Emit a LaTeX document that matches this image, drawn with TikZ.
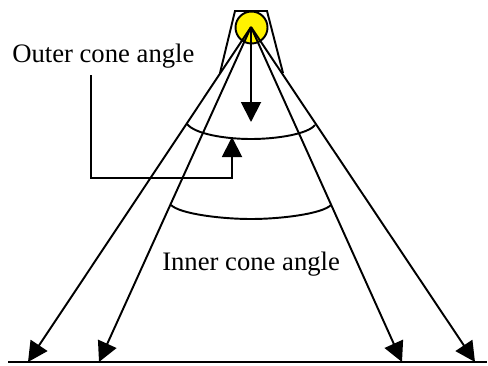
\documentclass[tikz,border=0pt]{standalone}
\usepackage{fontspec}
\setmainfont{Liberation Serif}
\usetikzlibrary{arrows.meta}
\begin{document}
\begin{tikzpicture}[x=0.75pt,y=-0.75pt,
  ln/.style={draw=black,line width=1.45pt,line join=miter},
  arr/.style={ln,-{Triangle[length=15pt,width=15pt]}},
  lbl/.style={inner sep=0pt,font=\fontsize{20pt}{22pt}\selectfont,text=black}]
\useasboundingbox (0,0) rectangle (488,365);
\coordinate (apex) at (251,27);
\coordinate (t1) at (28,362);
\coordinate (t2) at (99,362);
\coordinate (t3) at (402,362);
\coordinate (t4) at (475,362);
\coordinate (g1) at (8,362);
\coordinate (g2) at (487,362);
\coordinate (dn) at (251,122);
\coordinate (up) at (232,137);
\coordinate (e1) at (232,178);
\coordinate (e2) at (91,178);
\coordinate (e3) at (91,75);
\fill[yellow] (251.5,27.5) circle (16);
\draw[ln] (251.5,27.5) circle (16);
\draw[ln] (220,73) -- (235,11) -- (267,11) -- (283,73);
\draw[arr] (apex) -- (t1);
\draw[arr] (apex) -- (t2);
\draw[arr] (apex) -- (t3);
\draw[arr] (apex) -- (t4);
\draw[arr] (apex) -- (dn);
\draw[arr] (e3) -- (e2) -- (e1) -- (up);
\draw[ln,line width=1.8pt] (g1) -- (g2);
\draw[ln] (187,124) .. controls (195,134) and (225,139) .. (251,139) .. controls (277,139) and (308,134) .. (315,125);
\draw[ln] (171,205) .. controls (180,214) and (222,219) .. (251,219) .. controls (280,219) and (322,214) .. (331,205);
\node[lbl,anchor=base west] (outer) at (12,62) {Outer cone angle};
\node[lbl,anchor=base west] (inner) at (162,270) {Inner cone angle};
\end{tikzpicture}
\end{document}
